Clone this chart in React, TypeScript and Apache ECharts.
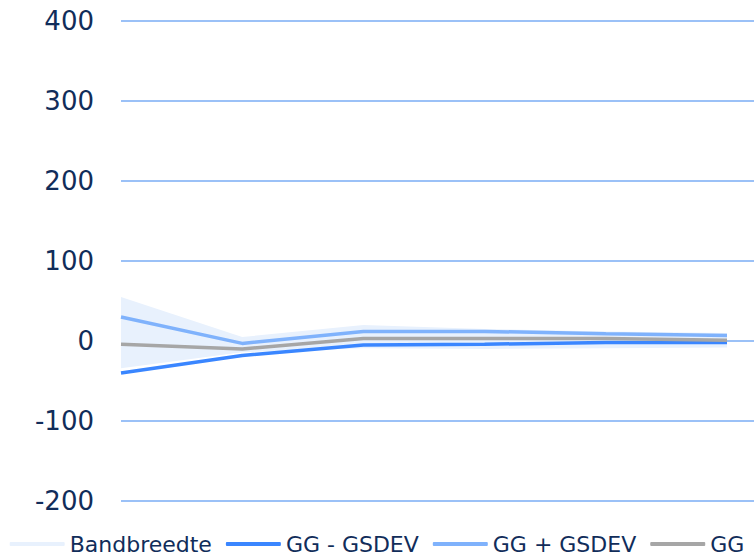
import React, { useEffect, useRef } from "react";
import * as echarts from "echarts";

const categories = ["1", "2", "3", "4", "5", "6"];
const ggPlus = [30, -3, 12, 12, 9, 7];
const gg = [-4, -10, 3, 3, 3, 1];
const ggMinus = [-40, -18, -5, -4, -2, -2];
const bandLow = [-34, -14, -9, -10, -9, -8];
const bandHigh = [55, 5, 20, 15, 12, 10];
const yTicks = { min: -200, max: 400, interval: 100 };

const FONT = "DejaVu Sans";
const TEXT = "#112d5a";

export default function App() {
  const ref = useRef<HTMLDivElement>(null);
  useEffect(() => {
    if (!ref.current) return;
    const chart = echarts.init(ref.current, undefined, { renderer: "svg" });
    chart.setOption({
      animation: false,
      grid: [
        { left: 121, right: 0, top: 21, bottom: 55, containLabel: false },
        { left: 121, right: 27, top: 21, bottom: 55, containLabel: false },
      ],
      xAxis: [
        { gridIndex: 0, type: "value", min: 0, max: 1, show: false },
        {
          gridIndex: 1,
          type: "category",
          data: categories,
          boundaryGap: false,
          show: false,
        },
      ],
      yAxis: [
        {
          gridIndex: 0,
          type: "value",
          min: yTicks.min,
          max: yTicks.max,
          interval: yTicks.interval,
          axisLine: { show: false },
          axisTick: { show: false },
          axisLabel: { margin: 27, fontSize: 26, color: TEXT, fontFamily: FONT },
          splitLine: { lineStyle: { color: "#7aadf5", width: 1.5 } },
        },
        {
          gridIndex: 1,
          type: "value",
          min: yTicks.min,
          max: yTicks.max,
          interval: yTicks.interval,
          show: false,
          splitLine: { show: false },
        },
      ],
      legend: {
        left: "center",
        top: 528,
        icon: "roundRect",
        itemWidth: 55,
        itemHeight: 4,
        itemGap: 14,
        textStyle: { fontSize: 22, color: TEXT, fontFamily: FONT },
        data: [
          { name: "Bandbreedte", itemStyle: { color: "#e8f1fd" } },
          { name: "GG - GSDEV", itemStyle: { color: "#3a86ff" } },
          { name: "GG + GSDEV", itemStyle: { color: "#7fb2fc" } },
          { name: "GG", itemStyle: { color: "#a6a6a6" } },
        ],
      },
      series: [
        {
          name: "bandBase",
          type: "line",
          xAxisIndex: 1,
          yAxisIndex: 1,
          stack: "band",
          stackStrategy: "all",
          data: bandLow,
          showSymbol: false,
          lineStyle: { opacity: 0 },
          silent: true,
        },
        {
          name: "Bandbreedte",
          type: "line",
          xAxisIndex: 1,
          yAxisIndex: 1,
          stack: "band",
          stackStrategy: "all",
          data: bandHigh.map((h, i) => h - bandLow[i]),
          showSymbol: false,
          color: "#e8f1fd",
          lineStyle: { opacity: 0 },
          areaStyle: { color: "#e8f1fd", opacity: 1 },
        },
        {
          name: "GG - GSDEV",
          type: "line",
          xAxisIndex: 1,
          yAxisIndex: 1,
          data: ggMinus,
          showSymbol: false,
          color: "#3a86ff",
          lineStyle: { width: 3.5, color: "#3a86ff" },
        },
        {
          name: "GG + GSDEV",
          type: "line",
          xAxisIndex: 1,
          yAxisIndex: 1,
          data: ggPlus,
          showSymbol: false,
          color: "#7fb2fc",
          lineStyle: { width: 3.5, color: "#7fb2fc" },
        },
        {
          name: "GG",
          type: "line",
          xAxisIndex: 1,
          yAxisIndex: 1,
          data: gg,
          showSymbol: false,
          color: "#a6a6a6",
          lineStyle: { width: 3.5, color: "#a6a6a6" },
        },
      ],
    });
    return () => chart.dispose();
  }, []);
  return (
    <div
      ref={ref}
      style={{ position: "absolute", left: 0, top: 0, width: 754, height: 556 }}
    />
  );
}
